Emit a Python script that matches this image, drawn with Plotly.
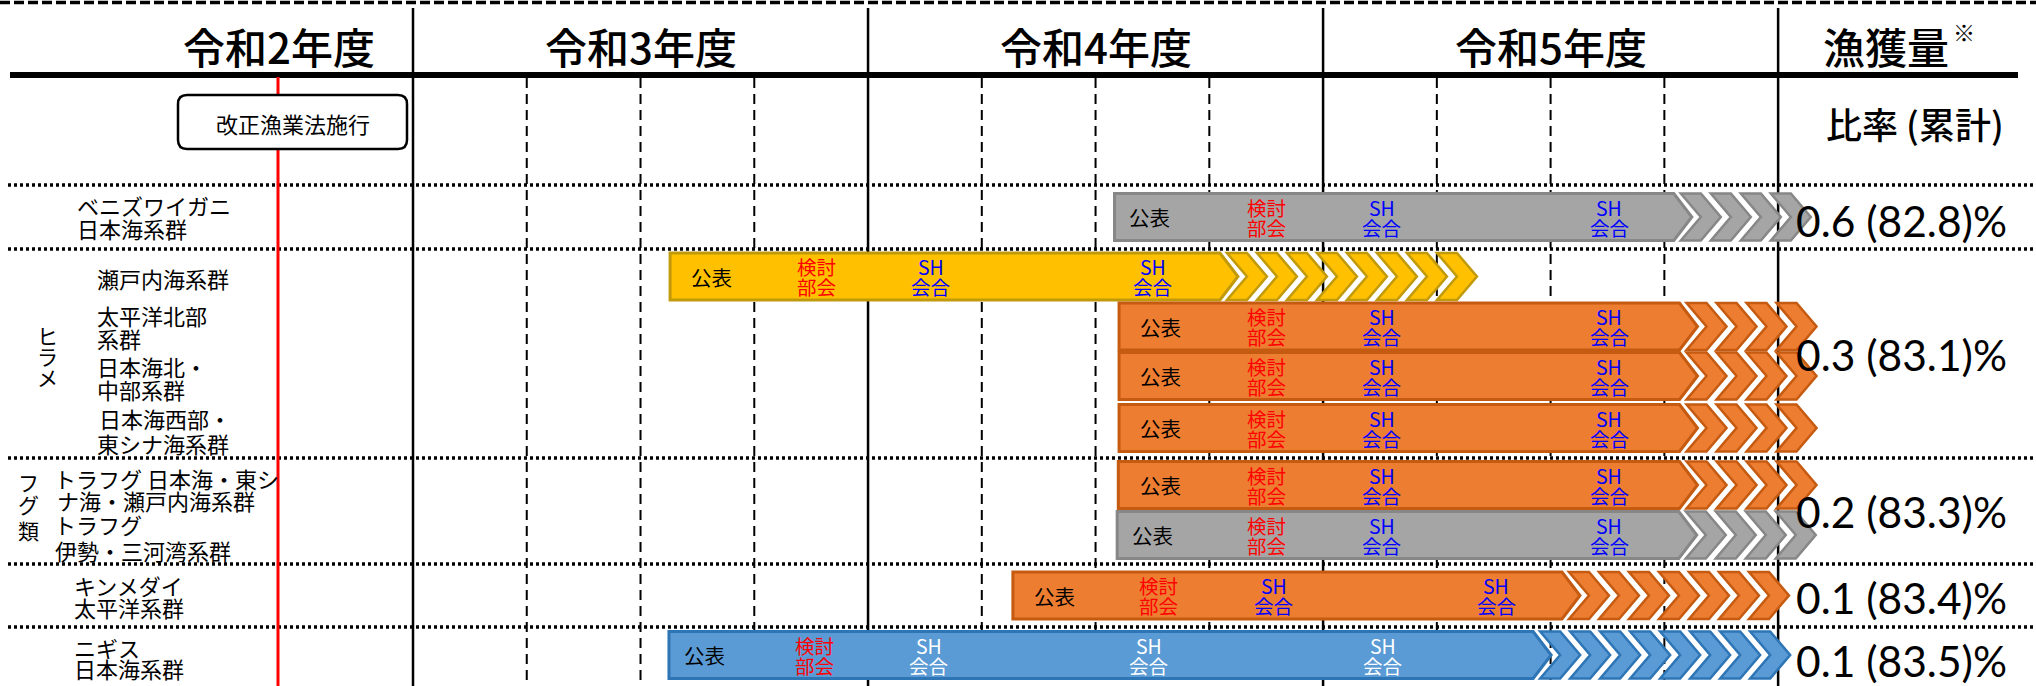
import plotly.graph_objects as go

# ---------------- data ----------------
YEAR_LABELS = ["令和2年度", "令和3年度", "令和4年度", "令和5年度"]
YEAR_START = [-12, 0, 12, 24]          # months, 0 = April of 令和3年度
CATCH_COL_START = 36                    # start of 漁獲量 column (months)
QUARTER_LINES = [3, 6, 9, 15, 18, 21, 27, 30, 33]
LAW_MONTH = -3.56                       # 改正漁業法施行

ROW_LABELS = [
    ["ベニズワイガニ", "日本海系群"],
    ["瀬戸内海系群"],
    ["太平洋北部", "系群"],
    ["日本海北・", "中部系群"],
    ["日本海西部・", "東シナ海系群"],
    ["トラフグ 日本海・東シ", "ナ海・瀬戸内海系群"],
    ["トラフグ", "伊勢・三河湾系群"],
    ["キンメダイ", "太平洋系群"],
    ["ニギス", "日本海系群"],
]
GROUP_LABELS = ["ヒラメ", "フグ類"]

BAR_START    = [18.50, 6.78, 18.62, 18.62, 18.62, 18.60, 18.57, 15.82, 6.75]
BAR_BODY_END = [33.25, 21.28, 33.40, 33.40, 33.40, 33.40, 33.38, 30.30, 29.54]
BAR_CHEVRONS = [4, 8, 4, 4, 4, 4, 4, 7, 8]
BAR_KIND     = ["gray", "yellow", "orange", "orange", "orange", "orange", "gray", "orange", "blue"]

PUBLISH_MONTH = [19.41, 7.88, 19.70, 19.70, 19.70, 19.70, 19.50, 16.93, 7.70]
REVIEW_MONTH  = [22.52, 10.63, 22.52, 22.52, 22.52, 22.52, 22.52, 19.67, 10.60]
SH_MONTHS = [
    [25.55, 31.54],
    [13.66, 19.51],
    [25.55, 31.54],
    [25.55, 31.54],
    [25.55, 31.54],
    [25.55, 31.54],
    [25.55, 31.54],
    [22.70, 28.56],
    [13.60, 19.40, 25.58],
]

RATIO_TEXT = ["0.6 (82.8)%", "0.3 (83.1)%", "0.2 (83.3)%", "0.1 (83.4)%", "0.1 (83.5)%"]

# ---------------- layout / style ----------------
W, H = 2036, 686
X0_PX = 413.0          # pixel of month 0
MONTH_PX = 37.92       # pixels per month
def pm(px):            # pixel distance -> months
    return px / MONTH_PX
def xm(px):            # absolute pixel -> month coordinate
    return (px - X0_PX) / MONTH_PX

JP = "Noto Sans CJK JP"
LAT = "Lato"

ROW_Y = [217, 276.5, 326.5, 376, 428, 485, 535, 595.5, 655]
HALF = 23.5
RATIO_Y = [220, 354, 511, 597, 660]
SEP_Y = [185, 249, 458, 564, 627]

COLORS = {
    "gray":   ("#A5A5A5", "#878787"),
    "yellow": ("#FFC000", "#C19A0B"),
    "orange": ("#ED7D31", "#C55A11"),
    "blue":   ("#5B9BD5", "#2E75B6"),
}

TIP = pm(18); GAP = pm(7); CA = pm(20); CD = pm(20); STEP = pm(30)

shapes = []
ann = []

def line(x0, y0, x1, y1, color="black", width=2, dash="solid", xref="x"):
    shapes.append(dict(type="line", xref=xref, yref="y", x0=x0, y0=y0, x1=x1, y1=y1,
                       line=dict(color=color, width=width, dash=dash)))

def text(x, y, s, size, color="black", family=JP, xref="x", xanchor="center", weight=None):
    f = dict(family=family, size=size, color=color)
    if weight:
        f["weight"] = weight
    ann.append(dict(x=x, y=y, xref=xref, yref="y", text=s, showarrow=False,
                    xanchor=xanchor, yanchor="middle", font=f))

# top dashed line
line(0, 2.5, 1, 2.5, width=3.5, dash="10px,4px", xref="paper")
# horizontal dotted separators
for y in SEP_Y:
    line(8 / W, y, 1, y, width=3.5, dash="3px,3px", xref="paper")
# quarter dashed lines
for q in QUARTER_LINES:
    line(q, 78, q, H, width=2, dash="10px,6px")
# year + catch column lines
for m in YEAR_START[1:] + [CATCH_COL_START]:
    line(m, 8, m, H, width=2.5)
# thick header line
line(10 / W, 75, 2018 / W, 75, width=6, xref="paper")
# red law line
line(LAW_MONTH, 77, LAW_MONTH, H, color="#FF0000", width=3)

# bars
for i in range(len(BAR_START)):
    fill, edge = COLORS[BAR_KIND[i]]
    yc = ROW_Y[i]; t = yc - HALF; b = yc + HALF
    s, e = BAR_START[i], BAR_BODY_END[i]
    path = f"M{s},{t} L{e},{t} L{e + TIP},{yc} L{e},{b} L{s},{b} Z"
    shapes.append(dict(type="path", xref="x", yref="y", path=path,
                       fillcolor=fill, line=dict(color=edge, width=3)))
    for k in range(BAR_CHEVRONS[i]):
        c = e + GAP + k * STEP
        p = (f"M{c},{t} L{c + CA},{t} L{c + CA + CD},{yc} L{c + CA},{b} "
             f"L{c},{b} L{c + CD},{yc} Z")
        shapes.append(dict(type="path", xref="x", yref="y", path=p,
                           fillcolor=fill, line=dict(color=edge, width=2.5)))
    # labels inside the bar
    text(PUBLISH_MONTH[i], yc, "公表", 20.5)
    text(REVIEW_MONTH[i], yc - 10, "検討", 19.5, "#FF0000")
    text(REVIEW_MONTH[i], yc + 10, "部会", 19.5, "#FF0000")
    shc = "#FFFFFF" if BAR_KIND[i] == "blue" else "#0000FF"
    for m in SH_MONTHS[i]:
        text(m, yc - 10, "SH", 19.5, shc)
        text(m, yc + 10, "会合", 19.5, shc)

# law box (rounded)
bx0, bx1, by0, by1, r = xm(178), xm(407), 95, 149, 9
rx = pm(r)
shapes.append(dict(type="path", xref="x", yref="y",
                   path=(f"M{bx0 + rx},{by0} L{bx1 - rx},{by0} Q{bx1},{by0} {bx1},{by0 + r} "
                         f"L{bx1},{by1 - r} Q{bx1},{by1} {bx1 - rx},{by1} L{bx0 + rx},{by1} "
                         f"Q{bx0},{by1} {bx0},{by1 - r} L{bx0},{by0 + r} Q{bx0},{by0} {bx0 + rx},{by0} Z"),
                   fillcolor="white", line=dict(color="black", width=2.5)))
text((bx0 + bx1) / 2, 123, "改正漁業法施行", 22)

# header texts
text(279 / W, 45, YEAR_LABELS[0], 42, xref="paper", weight=500)
for lab, st in zip(YEAR_LABELS[1:], YEAR_START[1:]):
    text(st + 6, 45, lab, 42, weight=500)
text(1886 / W, 45, "漁獲量", 42, xref="paper", weight=500)
text(1964 / W, 31, "※", 22, xref="paper")
text(1915 / W, 123, "比率 (累計)", 36, xref="paper", weight=500)

# ratio values
for s, y in zip(RATIO_TEXT, RATIO_Y):
    text(1794 / W, y, s, 42.5, family=LAT, xref="paper", xanchor="left")

# row labels
LABEL_POS = [
    [(75, 205), (75, 228)],
    [(95, 278)],
    [(95, 315), (95, 338)],
    [(95, 366), (95, 389)],
    [(97, 418), (95, 443)],
    [(52, 478), (55, 500)],
    [(52, 524), (53, 550)],
    [(72, 585), (72, 607)],
    [(72, 647), (72, 668)],
]
for lines_, pos in zip(ROW_LABELS, LABEL_POS):
    for s, (px, py) in zip(lines_, pos):
        text(px / W, py, s, 22, xref="paper", xanchor="left")

# vertical group labels
for ch, y in zip(GROUP_LABELS[0], [335, 356, 377]):
    text(47 / W, y, ch, 21, xref="paper")
for ch, y in zip(GROUP_LABELS[1], [482, 504, 530]):
    text(28 / W, y, ch, 21, xref="paper")

fig = go.Figure()
fig.add_trace(go.Scatter(x=[0], y=[0], mode="markers", marker=dict(opacity=0),
                         hoverinfo="skip", showlegend=False))
fig.update_layout(
    width=W, height=H, autosize=False,
    margin=dict(l=0, r=0, t=0, b=0, pad=0),
    paper_bgcolor="white", plot_bgcolor="white",
    shapes=shapes, annotations=ann, showlegend=False,
    xaxis=dict(range=[xm(0), xm(W)], visible=False, fixedrange=True),
    yaxis=dict(range=[H, 0], visible=False, fixedrange=True),
)
fig.write_html("out.html", config={"displayModeBar": False},
               post_script="document.body.style.margin='0px';document.body.style.overflow='hidden';")
